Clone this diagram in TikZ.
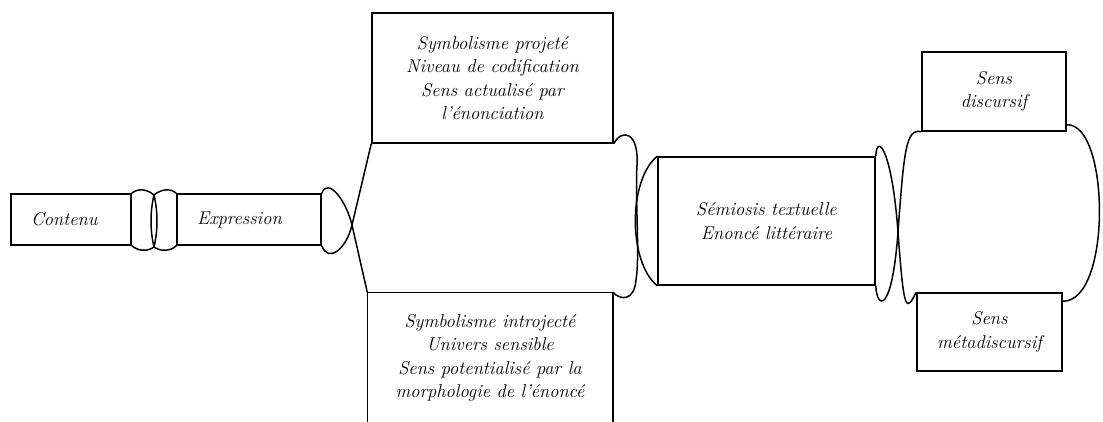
\documentclass[tikz,border=0pt]{standalone}
\usepackage{tikz}
\tikzstyle{schema}=[x=1pt, y=-1pt, line width=1.5pt, font={\fontsize{18.5}{23.3}\selectfont\itshape}]
\tikzstyle{boite}=[rectangle, draw, inner sep=0pt, align=center]
\tikzstyle{case}=[rectangle, draw, inner ysep=0pt, inner xsep=20pt, align=left, minimum height=51pt]
\tikzstyle{ouvert}=[rectangle, inner sep=0pt, align=center]

\begin{document}
\begin{tikzpicture}[schema]
	\useasboundingbox (0,0) rectangle (1103,421);

	\draw (71,219.5) node[case, text width=80pt] (contenu) {Contenu};
	\draw (249,219.5) node[case, text width=104pt] (expression) {Expression};
	%%
	\coordinate (joinh) at (154,195);
	\coordinate (joinb) at (154,247);
	\draw (contenu.north east) .. controls (138,188) and (147,189) .. (joinh)
		.. controls (158,212) and (158,230) .. (joinb)
		.. controls (147,252) and (138,251) .. (contenu.south east);
	\draw (expression.north west) .. controls (171,188) and (161,189) .. (joinh)
		.. controls (150,212) and (150,230) .. (joinb)
		.. controls (161,252) and (171,251) .. (expression.south west);
	%%%%%%
	\draw (492.5,78) node[boite, minimum width=241pt, minimum height=130pt] (projete)
		{Symbolisme projeté\\Niveau de codification\\Sens actualisé par\\l’énonciation};
	\draw (490,358) node[ouvert, minimum width=244pt, minimum height=130pt] (introjete)
		{Symbolisme introjecté\\Univers sensible\\Sens potentialisé par la\\morphologie de l’énoncé};
	\draw (introjete.south west) -- (introjete.north west) -- (introjete.north east) -- (introjete.south east);
	%%
	\coordinate (croix) at (352,225);
	\draw (expression.north east) .. controls (328,177) and (346,200) .. (croix) -- (introjete.north west);
	\draw (expression.south east) .. controls (328,263) and (346,250) .. (croix) -- (projete.south west);
	%%%%%%
	\draw (766.5,221) node[boite, minimum width=217pt, minimum height=128pt] (semiosis)
		{Sémiosis textuelle\\Enoncé littéraire};
	%%
	\draw (projete.south east) .. controls (622,128) and (639,132) .. (637,165)
		.. controls (635,200) and (640,255) .. (636,280)
		.. controls (634,302) and (620,300) .. (introjete.north east);
	\draw (semiosis.north west) .. controls (628,180) and (628,262) .. (semiosis.south west);
	%%%%%%
	\draw (994,91.5) node[boite, minimum width=144pt, minimum height=79pt] (discursif)
		{Sens\\discursif};
	\draw (989.5,332) node[boite, minimum width=145pt, minimum height=78pt] (metadiscursif)
		{Sens\\métadiscursif};
	%%
	\coordinate (croixd) at (898,232);
	\draw (semiosis.north east) .. controls (877,132) and (892,150) .. (croixd)
		.. controls (904,314) and (906,312) .. (metadiscursif.north west);
	\draw (semiosis.south east) .. controls (877,310) and (892,314) .. (croixd)
		.. controls (904,150) and (906,128) .. (discursif.south west);
	\draw ([yshift=7pt]discursif.south east) .. controls (1110,123) and (1112,302) .. ([yshift=-9pt]metadiscursif.north east);
\end{tikzpicture}
\end{document}
